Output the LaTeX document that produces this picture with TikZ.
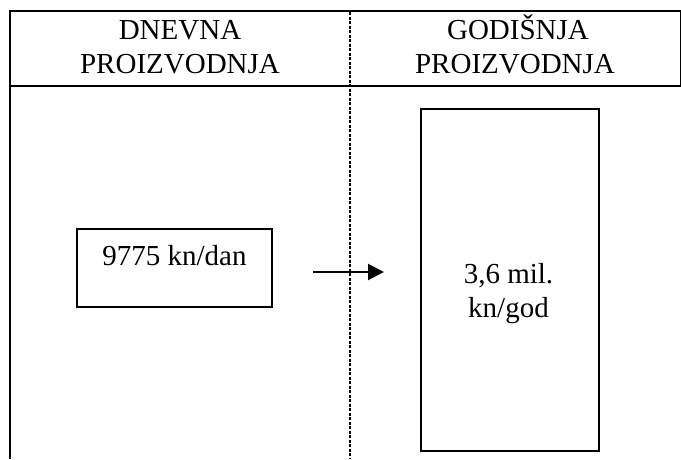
\documentclass[tikz,border=0pt]{standalone}
\usepackage{fontspec}
\setmainfont{Liberation Serif}
\usetikzlibrary{arrows.meta}
\tikzset{
  frameline/.style={line width=2pt, black},
  divline/.style={line width=1.8pt, black, dash pattern=on 3pt off 1.5pt},
  boxnode/.style={draw, line width=2pt, minimum width=#1, inner sep=0pt},
  txt/.style={anchor=base, inner sep=0pt, font=\fontsize{29}{34}\selectfont},
  arrowline/.style={line width=2pt, -{Triangle[length=16pt,width=16pt]}}
}
\begin{document}
\begin{tikzpicture}[x=1pt,y=-1pt]
\useasboundingbox (0,0) rectangle (681,459);
% frame
\draw[frameline] (9,11) -- (681,11);
\draw[frameline] (9,86) -- (681,86);
\draw[frameline] (10,10) -- (10,459);
\draw[line width=1pt] (680,11) -- (680,86);
\draw[divline] (350,12) -- (350,459);
% headers
\node[txt] (hl1) at (180,39) {DNEVNA};
\node[txt] (hl2) at (180,73) {PROIZVODNJA};
\node[txt] (hr1) at (518,39) {GODIŠNJA};
\node[txt] (hr2) at (515,73) {PROIZVODNJA};
% boxes
\node[boxnode=195.6pt, minimum height=77.7pt] (small) at (174.5,267.9) {};
\node[txt] (smalltxt) at (174.5,265) {9775 kn/dan};
\node[boxnode=178.3pt, minimum height=342pt] (big) at (509.9,280) {};
\node[txt] (bigtxt1) at (508.5,283) {3,6 mil.};
\node[txt] (bigtxt2) at (508.5,317) {kn/god};
% arrow
\coordinate (arrS) at (313,272);
\coordinate (arrE) at (384,272);
\draw[arrowline] (arrS) -- (arrE);
\end{tikzpicture}
\end{document}
